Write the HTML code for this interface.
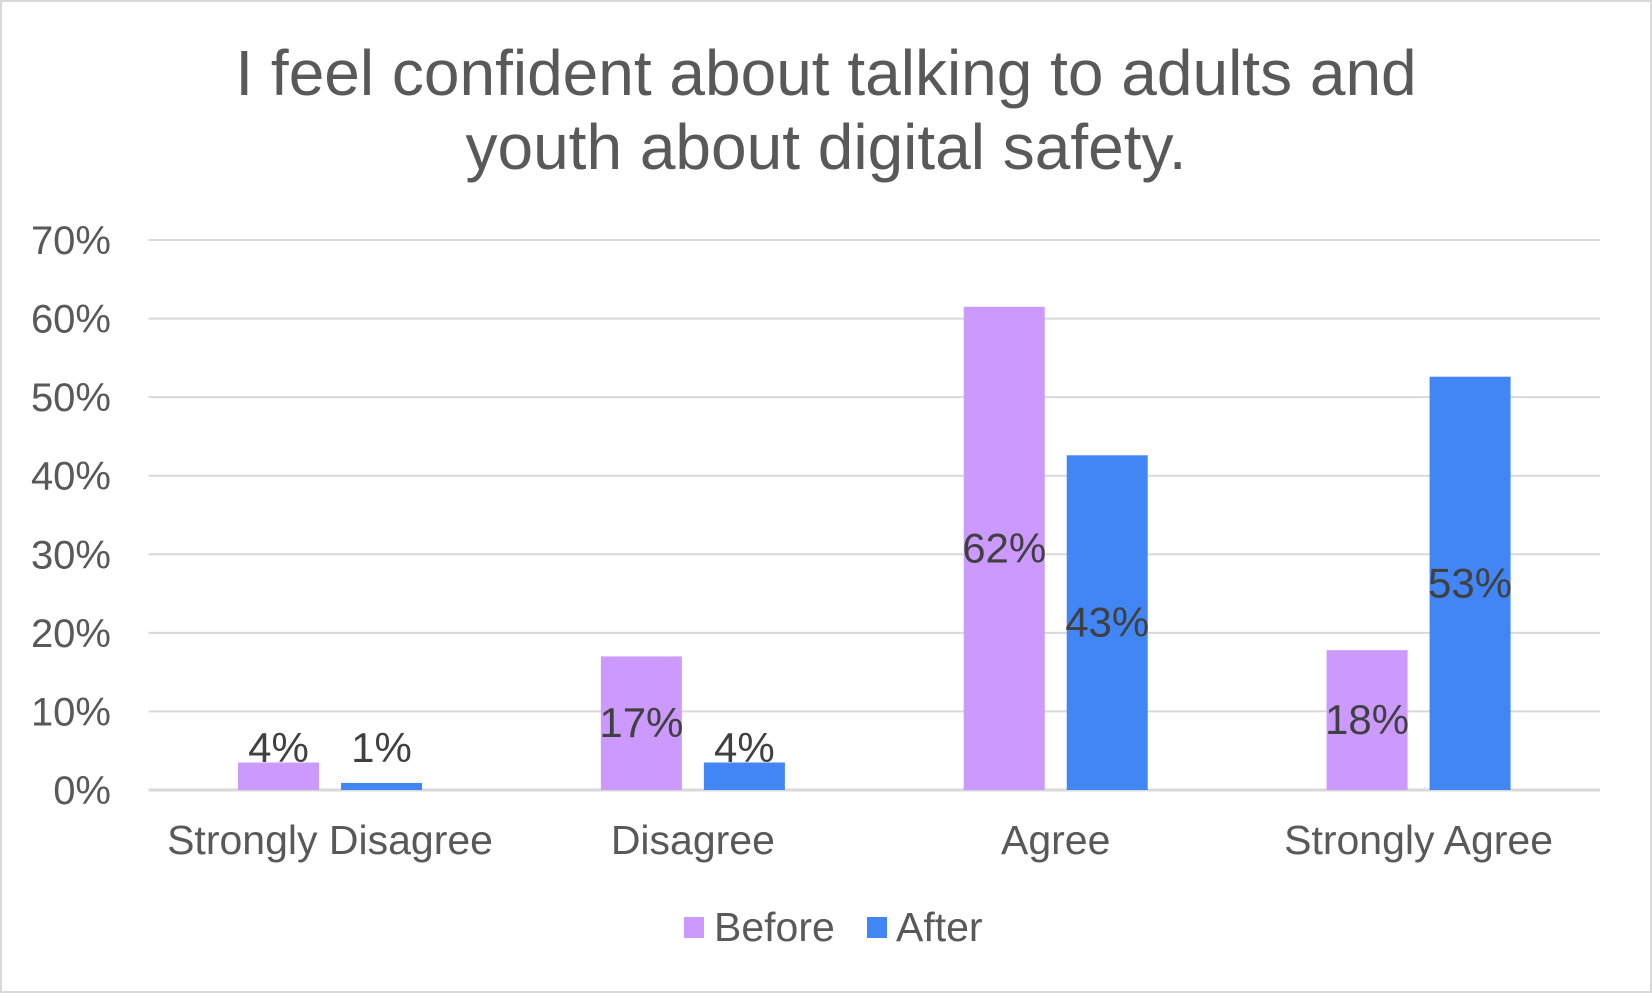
<!DOCTYPE html>
<html><head><meta charset="utf-8"><style>
html,body{margin:0;padding:0;background:#fff}
svg{display:block;font-family:"Liberation Sans",Arial,sans-serif}
</style></head><body>
<svg id="chart" width="1652" height="993" viewBox="0 0 1652 993">
<rect x="1" y="1" width="1650" height="991" fill="#fff" stroke="#d9d9d9" stroke-width="2"/>
<text x="826" y="95" text-anchor="middle" font-size="64" fill="#595959">I feel confident about talking to adults and</text>
<text x="826" y="169" text-anchor="middle" font-size="64" fill="#595959">youth about digital safety.</text>
<g id="grid"></g><g id="bars"></g><g id="labels"></g>
<rect x="684" y="917" width="20" height="21" fill="#cc99ff"/>
<text x="714" y="941" font-size="41" fill="#595959">Before</text>
<rect x="867" y="917" width="20" height="21" fill="#4285f4"/>
<text x="896" y="941" font-size="41" fill="#595959">After</text>
</svg>
<script>
const categories = ["Strongly Disagree","Disagree","Agree","Strongly Agree"];
const beforeValues = [3.5,17,61.5,17.8];
const afterValues = [0.9,3.5,42.6,52.6];
const beforeLabels = ["4%","17%","62%","18%"];
const afterLabels = ["1%","4%","43%","53%"];
const yTicks = [0,10,20,30,40,50,60,70];

const NS="http://www.w3.org/2000/svg";
const x0=148.6,x1=1600,y0=790,yTop=240,yMax=70;
const y=v=>y0-(v/yMax)*(y0-yTop);
const gw=(x1-x0)/categories.length;
function mk(tag,attrs,parent,txt){const e=document.createElementNS(NS,tag);for(const k in attrs)e.setAttribute(k,attrs[k]);if(txt!==undefined)e.textContent=txt;document.getElementById(parent).appendChild(e);return e;}
yTicks.forEach(t=>{
  const l=mk('line',{x1:x0,x2:x1,y1:y(t),y2:y(t),stroke:'#d9d9d9','stroke-width':t===0?3:2},'grid');
  
  
  const tx=mk('text',{x:111,y:y(t)+14,'text-anchor':'end','font-size':40,fill:'#595959'},'grid',t+'%');
  
  
});
categories.forEach((c,i)=>{
  const cx=x0+gw*(i+0.5);
  const tx=mk('text',{x:cx,y:854,'text-anchor':'middle','font-size':41,fill:'#595959'},'labels',c);
  
  
  [[beforeValues,beforeLabels,'#cc99ff',cx-92,'before'],[afterValues,afterLabels,'#4285f4',cx+11,'after']].forEach(([vals,labs,col,bx,nm])=>{
    const v=vals[i];
    const r=mk('rect',{x:bx,y:y(v),width:81,height:y0-y(v),fill:col},'bars');
    
    
    const mid=Math.min((y(v)+y0)/2,748);
    const t=mk('text',{x:bx+40.5,y:mid+14,'text-anchor':'middle','font-size':42,fill:'#404040'},'labels',labs[i]);
    
    
  });
});
</script>
</body></html>
